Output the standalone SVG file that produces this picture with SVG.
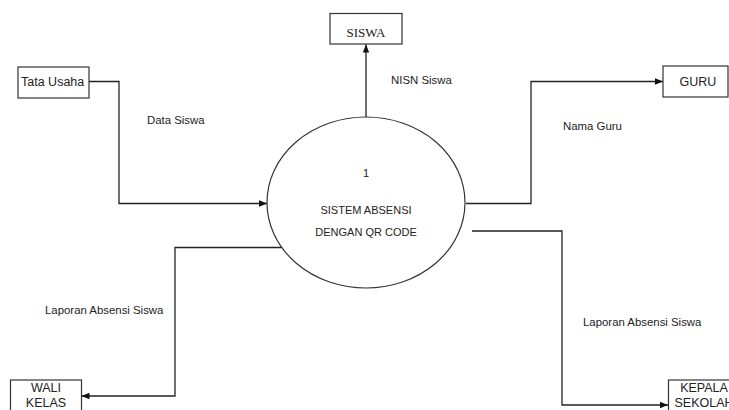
<svg xmlns="http://www.w3.org/2000/svg" width="729" height="410" viewBox="0 0 729 410">
<defs>
<marker id="arrow" markerUnits="userSpaceOnUse" markerWidth="9" markerHeight="8" refX="8" refY="4" orient="auto">
<path d="M0,0.8 L8,4 L0,7.2 Z" fill="#111"/>
</marker>
<style>
.box{fill:#fff;stroke:#333;stroke-width:1.2}
.lbl{font-family:"Liberation Sans",Arial,sans-serif;font-size:11.4px;fill:#222}
.pt{font-family:"Liberation Sans",Arial,sans-serif;font-size:11px;fill:#222}
.nt{font-family:"Liberation Sans",Arial,sans-serif;font-size:12.5px;fill:#222}
.conn{fill:none;stroke:#222;stroke-width:1.3}
</style>
</defs>
<rect width="729" height="410" fill="#fff"/>
<g id="connectors">
<path class="conn" d="M89,81.5 H119 V203.5 H267" marker-end="url(#arrow)"/>
<path class="conn" d="M366,117 V44.5" marker-end="url(#arrow)"/>
<path class="conn" d="M466,203.5 H531 V81.5 H663" marker-end="url(#arrow)"/>
<path class="conn" d="M281.5,247.5 H175 V396 H81.5" marker-end="url(#arrow)"/>
<path class="conn" d="M472,231 H562 V405 H668" marker-end="url(#arrow)"/>
<text class="lbl" x="147" y="124">Data Siswa</text>
<text class="lbl" x="391" y="84">NISN Siswa</text>
<text class="lbl" x="563" y="130">Nama Guru</text>
<text class="lbl" x="45" y="314">Laporan Absensi Siswa</text>
<text class="lbl" x="583" y="326">Laporan Absensi Siswa</text>
</g>
<g id="tata-usaha">
<rect class="box" x="18" y="67" width="71" height="31"/>
<text class="nt" x="21" y="86">Tata Usaha</text>
</g>
<g id="siswa">
<rect class="box" x="330" y="13.5" width="72" height="30.5"/>
<text x="366" y="37" text-anchor="middle" font-family="'Liberation Serif','Times New Roman',serif" font-size="13" fill="#222">SISWA</text>
</g>
<g id="guru">
<rect class="box" x="663" y="66" width="65" height="31"/>
<text class="nt" x="698" y="85.5" text-anchor="middle">GURU</text>
</g>
<g id="proses">
<ellipse cx="366" cy="202.5" rx="99" ry="85.5" fill="#fff" stroke="#333" stroke-width="1.2"/>
<text class="pt" x="366" y="177" text-anchor="middle">1</text>
<text class="pt" x="366" y="213.5" text-anchor="middle">SISTEM ABSENSI</text>
<text class="pt" x="366" y="236" text-anchor="middle">DENGAN QR CODE</text>
</g>
<g id="wali-kelas">
<rect class="box" x="10.5" y="380" width="71" height="40"/>
<text class="nt" x="46" y="391.5" text-anchor="middle">WALI</text>
<text class="nt" x="46" y="407" text-anchor="middle">KELAS</text>
</g>
<g id="kepala-sekolah">
<rect class="box" x="668.5" y="380" width="80" height="40"/>
<text class="nt" x="704" y="391.5" text-anchor="middle">KEPALA</text>
<text class="nt" x="704" y="407" text-anchor="middle">SEKOLAH</text>
</g>
</svg>
